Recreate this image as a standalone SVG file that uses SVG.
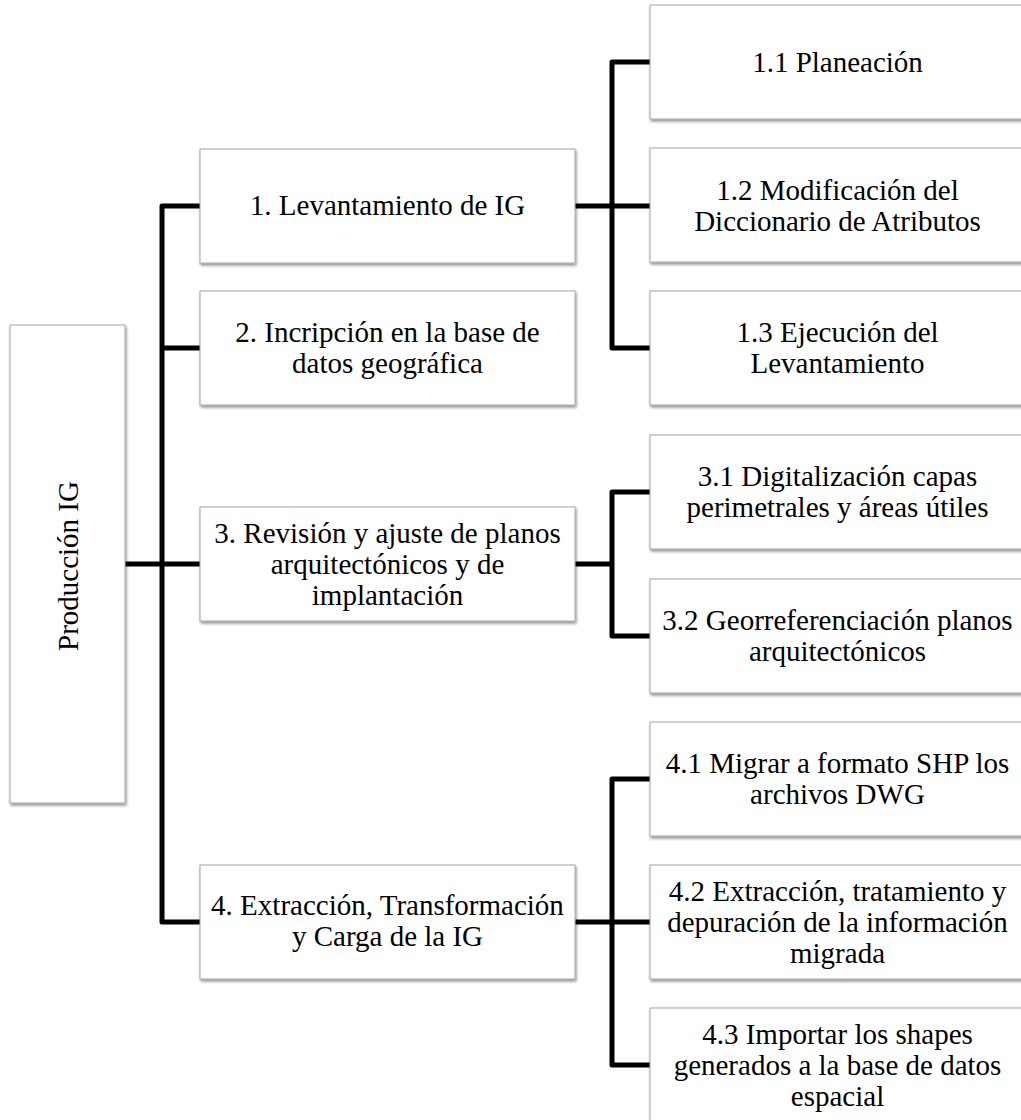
<svg xmlns="http://www.w3.org/2000/svg" width="1021" height="1120" viewBox="0 0 1021 1120">
<defs>
<filter id="sh" x="-10%" y="-10%" width="130%" height="130%">
<feDropShadow dx="1" dy="2" stdDeviation="1.5" flood-color="#000" flood-opacity="0.45"/>
</filter>
<style>
.box{fill:#fff;stroke:#a6a6a6;stroke-width:1;filter:url(#sh)}
.t{font-family:"Liberation Serif","Times New Roman",serif;font-size:29px;fill:#000;text-anchor:middle}
.c{fill:none;stroke:#000;stroke-width:5;stroke-linejoin:round}
</style>
</defs>
<rect width="1021" height="1120" fill="#fff"/>
<g id="connectors">
<path class="c" d="M200,206 H162 V922 H200"/>
<path class="c" d="M162,348 H200"/>
<path class="c" d="M125,564 H200"/>
<path class="c" d="M575,206 H650"/>
<path class="c" d="M650,62 H612 V348 H650"/>
<path class="c" d="M575,564 H612"/>
<path class="c" d="M650,492 H612 V636 H650"/>
<path class="c" d="M575,922 H650"/>
<path class="c" d="M650,779 H612 V1065 H650"/>
</g>
<g id="root">
<rect class="box" x="10" y="325" width="115" height="478"/>
<text class="t" transform="translate(78,566) rotate(-90)" x="0" y="0">Producción IG</text>
</g>
<g id="n1">
<rect class="box" x="200" y="149" width="375" height="114"/>
<text class="t" x="387.5" y="215">1. Levantamiento de IG</text>
</g>
<g id="n2">
<rect class="box" x="200" y="291" width="375" height="114"/>
<text class="t" x="387.5" y="342">2. Incripción en la base de</text>
<text class="t" x="387.5" y="373">datos geográfica</text>
</g>
<g id="n3">
<rect class="box" x="200" y="507" width="375" height="114"/>
<text class="t" x="387.5" y="543">3. Revisión y ajuste de planos</text>
<text class="t" x="387.5" y="574">arquitectónicos y de</text>
<text class="t" x="387.5" y="605">implantación</text>
</g>
<g id="n4">
<rect class="box" x="200" y="865" width="375" height="114"/>
<text class="t" x="387.5" y="915">4. Extracción, Transformación</text>
<text class="t" x="387.5" y="946">y Carga de la IG</text>
</g>
<g id="n11">
<rect class="box" x="650" y="5" width="375" height="114"/>
<text class="t" x="837.5" y="72">1.1 Planeación</text>
</g>
<g id="n12">
<rect class="box" x="650" y="148" width="375" height="114"/>
<text class="t" x="837.5" y="200">1.2 Modificación del</text>
<text class="t" x="837.5" y="231">Diccionario de Atributos</text>
</g>
<g id="n13">
<rect class="box" x="650" y="291" width="375" height="114"/>
<text class="t" x="837.5" y="342">1.3 Ejecución del</text>
<text class="t" x="837.5" y="373">Levantamiento</text>
</g>
<g id="n31">
<rect class="box" x="650" y="435" width="375" height="114"/>
<text class="t" x="837.5" y="486">3.1 Digitalización capas</text>
<text class="t" x="837.5" y="517">perimetrales y áreas útiles</text>
</g>
<g id="n32">
<rect class="box" x="650" y="579" width="375" height="114"/>
<text class="t" x="837.5" y="630">3.2 Georreferenciación planos</text>
<text class="t" x="837.5" y="661">arquitectónicos</text>
</g>
<g id="n41">
<rect class="box" x="650" y="722" width="375" height="114"/>
<text class="t" x="837.5" y="773">4.1 Migrar a formato SHP los</text>
<text class="t" x="837.5" y="804">archivos DWG</text>
</g>
<g id="n42">
<rect class="box" x="650" y="865" width="375" height="114"/>
<text class="t" x="837.5" y="901">4.2 Extracción, tratamiento y</text>
<text class="t" x="837.5" y="932">depuración de la información</text>
<text class="t" x="837.5" y="963">migrada</text>
</g>
<g id="n43">
<rect class="box" x="650" y="1008" width="375" height="114"/>
<text class="t" x="837.5" y="1044">4.3 Importar los shapes</text>
<text class="t" x="837.5" y="1075">generados a la base de datos</text>
<text class="t" x="837.5" y="1106">espacial</text>
</g>
</svg>
